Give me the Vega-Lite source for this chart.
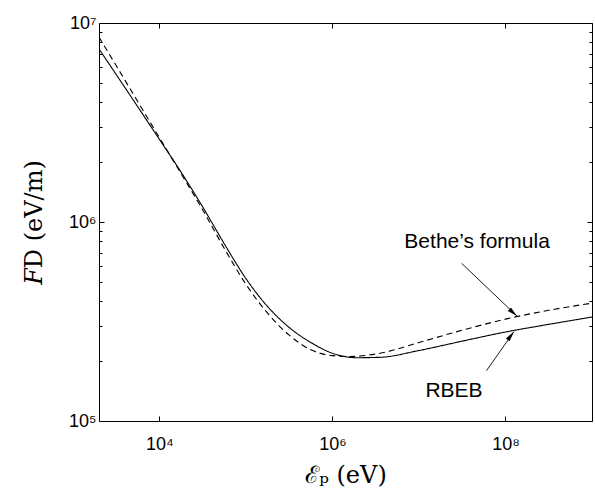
{
  "$schema": "https://vega.github.io/schema/vega-lite/v6.json",
  "width": 493,
  "height": 398,
  "autosize": {"type": "none"},
  "padding": {"left": 99, "top": 23, "right": 3, "bottom": 77},
  "background": "white",
  "config": {
    "view": {"stroke": "black", "strokeWidth": 1},
    "axis": {
      "domain": false,
      "grid": false,
      "tickColor": "black",
      "labelColor": "black",
      "labelFont": "Liberation Sans",
      "labelFontSize": 18,
      "titleColor": "black",
      "titleFont": "DejaVu Serif",
      "titleFontWeight": "normal",
      "titleFontSize": 24
    }
  },
  "datasets": {
    "curves": [
      {"series": "RBEB", "E": 2000, "F": 7410000},
      {"series": "RBEB", "E": 4000, "F": 4730000},
      {"series": "RBEB", "E": 10000, "F": 2600000},
      {"series": "RBEB", "E": 17783, "F": 1780000},
      {"series": "RBEB", "E": 31623, "F": 1190000},
      {"series": "RBEB", "E": 56234, "F": 776000},
      {"series": "RBEB", "E": 100000, "F": 519000},
      {"series": "RBEB", "E": 177828, "F": 376000},
      {"series": "RBEB", "E": 316228, "F": 295000},
      {"series": "RBEB", "E": 562341, "F": 248000},
      {"series": "RBEB", "E": 1000000, "F": 219000},
      {"series": "RBEB", "E": 1900000, "F": 208000},
      {"series": "RBEB", "E": 3550000, "F": 209000},
      {"series": "RBEB", "E": 10000000, "F": 226000},
      {"series": "RBEB", "E": 31623000, "F": 252000},
      {"series": "RBEB", "E": 100000000, "F": 280000},
      {"series": "RBEB", "E": 316228000, "F": 306000},
      {"series": "RBEB", "E": 1000000000, "F": 333000},
      {"series": "Bethe", "E": 2000, "F": 8490000},
      {"series": "Bethe", "E": 4000, "F": 5150000},
      {"series": "Bethe", "E": 10000, "F": 2650000},
      {"series": "Bethe", "E": 17783, "F": 1750000},
      {"series": "Bethe", "E": 31623, "F": 1150000},
      {"series": "Bethe", "E": 56234, "F": 736000},
      {"series": "Bethe", "E": 100000, "F": 486000},
      {"series": "Bethe", "E": 177828, "F": 348000},
      {"series": "Bethe", "E": 316228, "F": 270000},
      {"series": "Bethe", "E": 562341, "F": 228000},
      {"series": "Bethe", "E": 1000000, "F": 213000},
      {"series": "Bethe", "E": 1580000, "F": 211000},
      {"series": "Bethe", "E": 3550000, "F": 219000},
      {"series": "Bethe", "E": 10000000, "F": 248000},
      {"series": "Bethe", "E": 31623000, "F": 286000},
      {"series": "Bethe", "E": 100000000, "F": 325000},
      {"series": "Bethe", "E": 316228000, "F": 360000},
      {"series": "Bethe", "E": 1000000000, "F": 391000}
    ],
    "arrows": [
      {"name": "Bethe", "x": 31100000, "y": 620000, "x2": 135500000, "y2": 337000, "angle": 132},
      {"name": "RBEB", "x": 60300000, "y": 179000, "x2": 125000000, "y2": 281000, "angle": 37}
    ],
    "labels": [
      {"text": "Bethe’s formula", "x": 47000000, "y": 796000},
      {"text": "RBEB", "x": 25400000, "y": 142000}
    ]
  },
  "layer": [
    {
      "data": {"name": "curves"},
      "mark": {"type": "line", "color": "black", "strokeWidth": 1.1, "interpolate": "monotone", "clip": true},
      "encoding": {
        "x": {
          "field": "E", "type": "quantitative",
          "scale": {"type": "log", "domain": [2000, 1000000000], "nice": false},
          "axis": {
            "orient": "bottom",
            "values": [10000, 1000000, 100000000],
            "tickSize": -5,
            "labelPadding": 19,
            "labelExpr": "'10' + ['⁰','¹','²','³','⁴','⁵','⁶','⁷','⁸','⁹'][round(log(datum.value)/LN10)]",
            "title": "ℰₚ (eV)",
            "titlePadding": 10
          }
        },
        "y": {
          "field": "F", "type": "quantitative",
          "scale": {"type": "log", "domain": [100000, 10000000], "nice": false},
          "axis": {
            "orient": "left",
            "values": [100000, 200000, 300000, 400000, 500000, 600000, 700000, 800000, 900000, 1000000, 2000000, 3000000, 4000000, 5000000, 6000000, 7000000, 8000000, 9000000, 10000000],
            "tickSize": {"condition": {"test": "abs(log(datum.value)/LN10 - round(log(datum.value)/LN10)) < 0.001", "value": -5}, "value": -3},
            "labelPadding": 8,
            "labelExpr": "abs(log(datum.value)/LN10 - round(log(datum.value)/LN10)) < 0.001 ? '10' + ['⁰','¹','²','³','⁴','⁵','⁶','⁷','⁸','⁹'][round(log(datum.value)/LN10)] : ''",
            "title": "𝐹D (eV/m)",
            "titlePadding": 22
          }
        },
        "strokeDash": {
          "field": "series", "type": "nominal",
          "scale": {"domain": ["RBEB", "Bethe"], "range": [[1, 0], [6, 4]]},
          "legend": null
        }
      }
    },
    {
      "data": {"name": "arrows"},
      "mark": {"type": "rule", "color": "black", "strokeWidth": 0.9},
      "encoding": {
        "x": {
          "field": "x", "type": "quantitative",
          "scale": {"type": "log", "domain": [2000, 1000000000], "nice": false},
          "axis": {"orient": "top", "values": [10000, 1000000, 100000000], "tickSize": -5, "labels": false, "title": null}
        },
        "y": {
          "field": "y", "type": "quantitative",
          "scale": {"type": "log", "domain": [100000, 10000000], "nice": false},
          "axis": {
            "orient": "right",
            "values": [100000, 200000, 300000, 400000, 500000, 600000, 700000, 800000, 900000, 1000000, 2000000, 3000000, 4000000, 5000000, 6000000, 7000000, 8000000, 9000000, 10000000],
            "tickSize": {"condition": {"test": "abs(log(datum.value)/LN10 - round(log(datum.value)/LN10)) < 0.001", "value": -5}, "value": -3},
            "labels": false, "title": null
          }
        },
        "x2": {"field": "x2"},
        "y2": {"field": "y2"}
      }
    },
    {
      "data": {"name": "arrows"},
      "mark": {"type": "point", "shape": "M0,0L0.4,1.7L-0.4,1.7Z", "filled": true, "color": "black", "opacity": 1, "size": 144},
      "encoding": {
        "x": {"field": "x2", "type": "quantitative", "scale": {"type": "log", "domain": [2000, 1000000000], "nice": false}, "axis": null},
        "y": {"field": "y2", "type": "quantitative", "scale": {"type": "log", "domain": [100000, 10000000], "nice": false}, "axis": null},
        "angle": {"field": "angle", "type": "quantitative", "scale": null}
      }
    },
    {
      "data": {"name": "labels"},
      "mark": {"type": "text", "font": "Liberation Sans", "fontSize": 21, "color": "black", "align": "center", "baseline": "middle"},
      "encoding": {
        "x": {"field": "x", "type": "quantitative", "scale": {"type": "log", "domain": [2000, 1000000000], "nice": false}, "axis": null},
        "y": {"field": "y", "type": "quantitative", "scale": {"type": "log", "domain": [100000, 10000000], "nice": false}, "axis": null},
        "text": {"field": "text"}
      }
    }
  ],
  "resolve": {"axis": {"x": "independent", "y": "independent"}}
}
